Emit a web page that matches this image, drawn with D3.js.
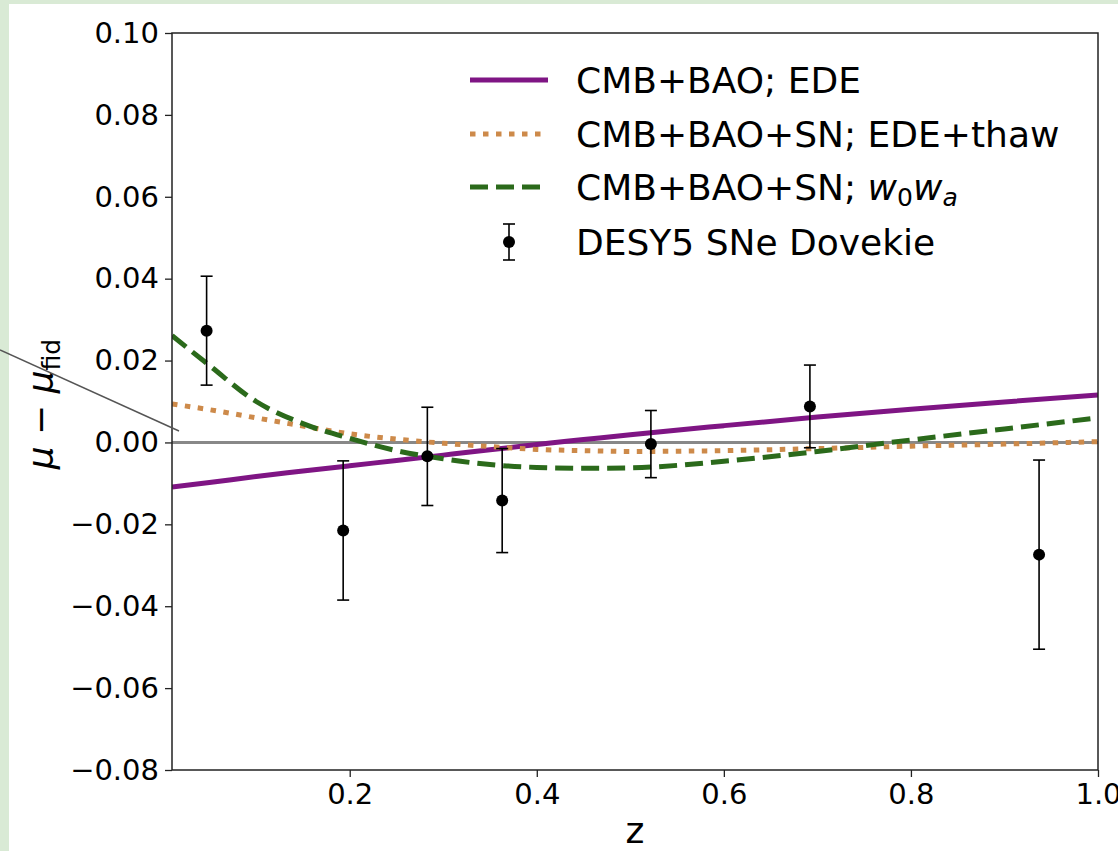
<!DOCTYPE html>
<html>
<head>
<meta charset="utf-8">
<script src="https://cdn.jsdelivr.net/npm/d3@7"></script>
<style>
  body { margin: 0; background: #fff; }
  text { font-family: "DejaVu Sans", sans-serif; fill: #000; }
</style>
</head>
<body>
<svg id="chart" width="1118" height="851"></svg>
<script>
// model curves, mu - mu_fid vs z
var zGrid = [0.01, 0.05, 0.1, 0.15, 0.2, 0.25, 0.3, 0.35, 0.4, 0.45, 0.5, 0.6, 0.7, 0.8, 0.9, 1.0];
var edeCurve = [-0.0109, -0.0098, -0.0083, -0.0070, -0.0057, -0.0044, -0.0031, -0.0018, -0.0005, 0.0007, 0.0019, 0.0041, 0.0062, 0.0081, 0.0099, 0.0116];
var thawCurve = [0.0094, 0.0080, 0.0060, 0.0040, 0.0021, 0.0008, -0.0002, -0.0010, -0.0017, -0.0020, -0.0022, -0.0020, -0.0015, -0.0009, -0.0004, 0.0002];
var w0waCurve = [0.0261, 0.0188, 0.0100, 0.0046, 0.0010, -0.0020, -0.0040, -0.0054, -0.0061, -0.0063, -0.0062, -0.0046, -0.0022, 0.0006, 0.0033, 0.0060];

// binned SNe
var snZ = [0.047, 0.193, 0.283, 0.363, 0.522, 0.692, 0.937];
var snMu = [0.0273, -0.0215, -0.0034, -0.0142, -0.0004, 0.0088, -0.0274];
var snErr = [0.0133, 0.0170, 0.0120, 0.0127, 0.0082, 0.0101, 0.0231];

var xTicks = [0.2, 0.4, 0.6, 0.8, 1.0];
var yTicks = [-0.08, -0.06, -0.04, -0.02, 0.0, 0.02, 0.04, 0.06, 0.08, 0.10];

(function () {
  var svg = d3.select("#chart");
  var width = +svg.attr("width");
  var height = +svg.attr("height");

  // page frame
  svg.append("rect").attr("width", width).attr("height", height).attr("fill", "#d9ead5");
  svg.append("rect").attr("x", 9).attr("y", 4).attr("width", width - 9).attr("height", height - 4).attr("fill", "#fff");

  var m = { left: 172, right: 1098, top: 33, bottom: 770 };
  var x = d3.scaleLinear().domain([0.01, 1.0]).range([m.left, m.right]);
  var y = d3.scaleLinear().domain([-0.08, 0.10]).range([m.bottom, m.top]);

  svg.append("clipPath").attr("id", "plotClip")
    .append("rect").attr("x", m.left).attr("y", m.top).attr("width", m.right - m.left).attr("height", m.bottom - m.top);

  var plot = svg.append("g").attr("clip-path", "url(#plotClip)");

  // zero line
  plot.append("line")
    .attr("x1", m.left).attr("x2", m.right)
    .attr("y1", y(0)).attr("y2", y(0))
    .attr("stroke", "#888").attr("stroke-width", 3);

  var line = d3.line()
    .x(function (d) { return x(d[0]); })
    .y(function (d) { return y(d[1]); })
    .curve(d3.curveMonotoneX);

  var series = [
    { vals: edeCurve, color: "#7f1584", dash: null },
    { vals: thawCurve, color: "#cd8a4a", dash: "5.5,7.5" },
    { vals: w0waCurve, color: "#2b6a1b", dash: "18,8" }
  ];

  series.forEach(function (s) {
    plot.append("path")
      .datum(zGrid.map(function (z, i) { return [z, s.vals[i]]; }))
      .attr("d", line)
      .attr("fill", "none")
      .attr("stroke", s.color)
      .attr("stroke-width", 5)
      .attr("stroke-dasharray", s.dash);
  });

  // error bars
  var pts = snZ.map(function (z, i) { return { z: z, mu: snMu[i], err: snErr[i] }; });
  var eb = plot.selectAll("g.sn").data(pts).enter().append("g").attr("class", "sn");
  eb.append("line")
    .attr("x1", function (d) { return x(d.z); }).attr("x2", function (d) { return x(d.z); })
    .attr("y1", function (d) { return y(d.mu + d.err); }).attr("y2", function (d) { return y(d.mu - d.err); })
    .attr("stroke", "#000").attr("stroke-width", 1.6);
  [1, -1].forEach(function (sgn) {
    eb.append("line")
      .attr("x1", function (d) { return x(d.z) - 6; }).attr("x2", function (d) { return x(d.z) + 6; })
      .attr("y1", function (d) { return y(d.mu + sgn * d.err); }).attr("y2", function (d) { return y(d.mu + sgn * d.err); })
      .attr("stroke", "#000").attr("stroke-width", 1.6);
  });
  eb.append("circle")
    .attr("cx", function (d) { return x(d.z); })
    .attr("cy", function (d) { return y(d.mu); })
    .attr("r", 6).attr("fill", "#000");

  // axes
  var xAxis = svg.append("g").attr("transform", "translate(0," + m.bottom + ")")
    .call(d3.axisBottom(x).tickValues(xTicks).tickFormat(d3.format(".1f")).tickSize(7).tickPadding(6));
  var yAxis = svg.append("g").attr("transform", "translate(" + m.left + ",0)")
    .call(d3.axisLeft(y).tickValues(yTicks).tickFormat(d3.format(".2f")).tickSize(7).tickPadding(6));
  [xAxis, yAxis].forEach(function (a) {
    a.select(".domain").remove();
    a.selectAll(".tick line").attr("stroke", "#222").attr("stroke-width", 1.3);
    a.selectAll(".tick text").attr("font-size", 29).attr("fill", "#000");
  });

  // box
  svg.append("rect")
    .attr("x", m.left).attr("y", m.top).attr("width", m.right - m.left).attr("height", m.bottom - m.top)
    .attr("fill", "none").attr("stroke", "#222").attr("stroke-width", 1.5);

  // axis labels
  svg.append("text").attr("x", (m.left + m.right) / 2).attr("y", 843)
    .attr("text-anchor", "middle").attr("font-size", 36).text("z");

  var yl = svg.append("text")
    .attr("transform", "translate(53,404) rotate(-90)")
    .attr("text-anchor", "middle").attr("font-size", 36);
  yl.append("tspan").attr("font-style", "italic").text("μ");
  yl.append("tspan").text(" − ");
  yl.append("tspan").attr("font-style", "italic").text("μ");
  yl.append("tspan").attr("font-size", 25).attr("dy", 7).text("fid");

  // legend
  var legendRows = [
    { kind: "line", color: "#7f1584", dash: null },
    { kind: "line", color: "#cd8a4a", dash: "5.5,7.5" },
    { kind: "line", color: "#2b6a1b", dash: "18,8" },
    { kind: "err" }
  ];
  var legY = [80, 134, 187, 242];
  legendRows.forEach(function (r, i) {
    var ly = legY[i];
    if (r.kind === "line") {
      svg.append("line").attr("x1", 470).attr("x2", 548).attr("y1", ly).attr("y2", ly)
        .attr("stroke", r.color).attr("stroke-width", 5).attr("stroke-dasharray", r.dash);
    } else {
      svg.append("line").attr("x1", 509).attr("x2", 509).attr("y1", ly - 18).attr("y2", ly + 18)
        .attr("stroke", "#000").attr("stroke-width", 1.6);
      svg.append("line").attr("x1", 503).attr("x2", 515).attr("y1", ly - 18).attr("y2", ly - 18)
        .attr("stroke", "#000").attr("stroke-width", 1.6);
      svg.append("line").attr("x1", 503).attr("x2", 515).attr("y1", ly + 18).attr("y2", ly + 18)
        .attr("stroke", "#000").attr("stroke-width", 1.6);
      svg.append("circle").attr("cx", 509).attr("cy", ly).attr("r", 6).attr("fill", "#000");
    }
  });

  var legText = svg.append("g").attr("font-size", 36);
  legText.append("text").attr("x", 576).attr("y", legY[0] + 13).text("CMB+BAO; EDE");
  legText.append("text").attr("x", 576).attr("y", legY[1] + 13).text("CMB+BAO+SN; EDE+thaw");
  var t3 = legText.append("text").attr("x", 576).attr("y", legY[2] + 13);
  t3.append("tspan").text("CMB+BAO+SN; ");
  t3.append("tspan").attr("font-style", "italic").text("w");
  t3.append("tspan").attr("font-size", 25).attr("dy", 6).text("0");
  t3.append("tspan").attr("font-style", "italic").attr("dy", -6).text("w");
  t3.append("tspan").attr("font-style", "italic").attr("font-size", 25).attr("dy", 6).text("a");
  legText.append("text").attr("x", 576).attr("y", legY[3] + 13).text("DESY5 SNe Dovekie");

  // stray annotation stroke on the left
  svg.append("line").attr("x1", 0).attr("y1", 350).attr("x2", 179).attr("y2", 431)
    .attr("stroke", "#555").attr("stroke-width", 1.5);
})();
</script>
</body>
</html>
